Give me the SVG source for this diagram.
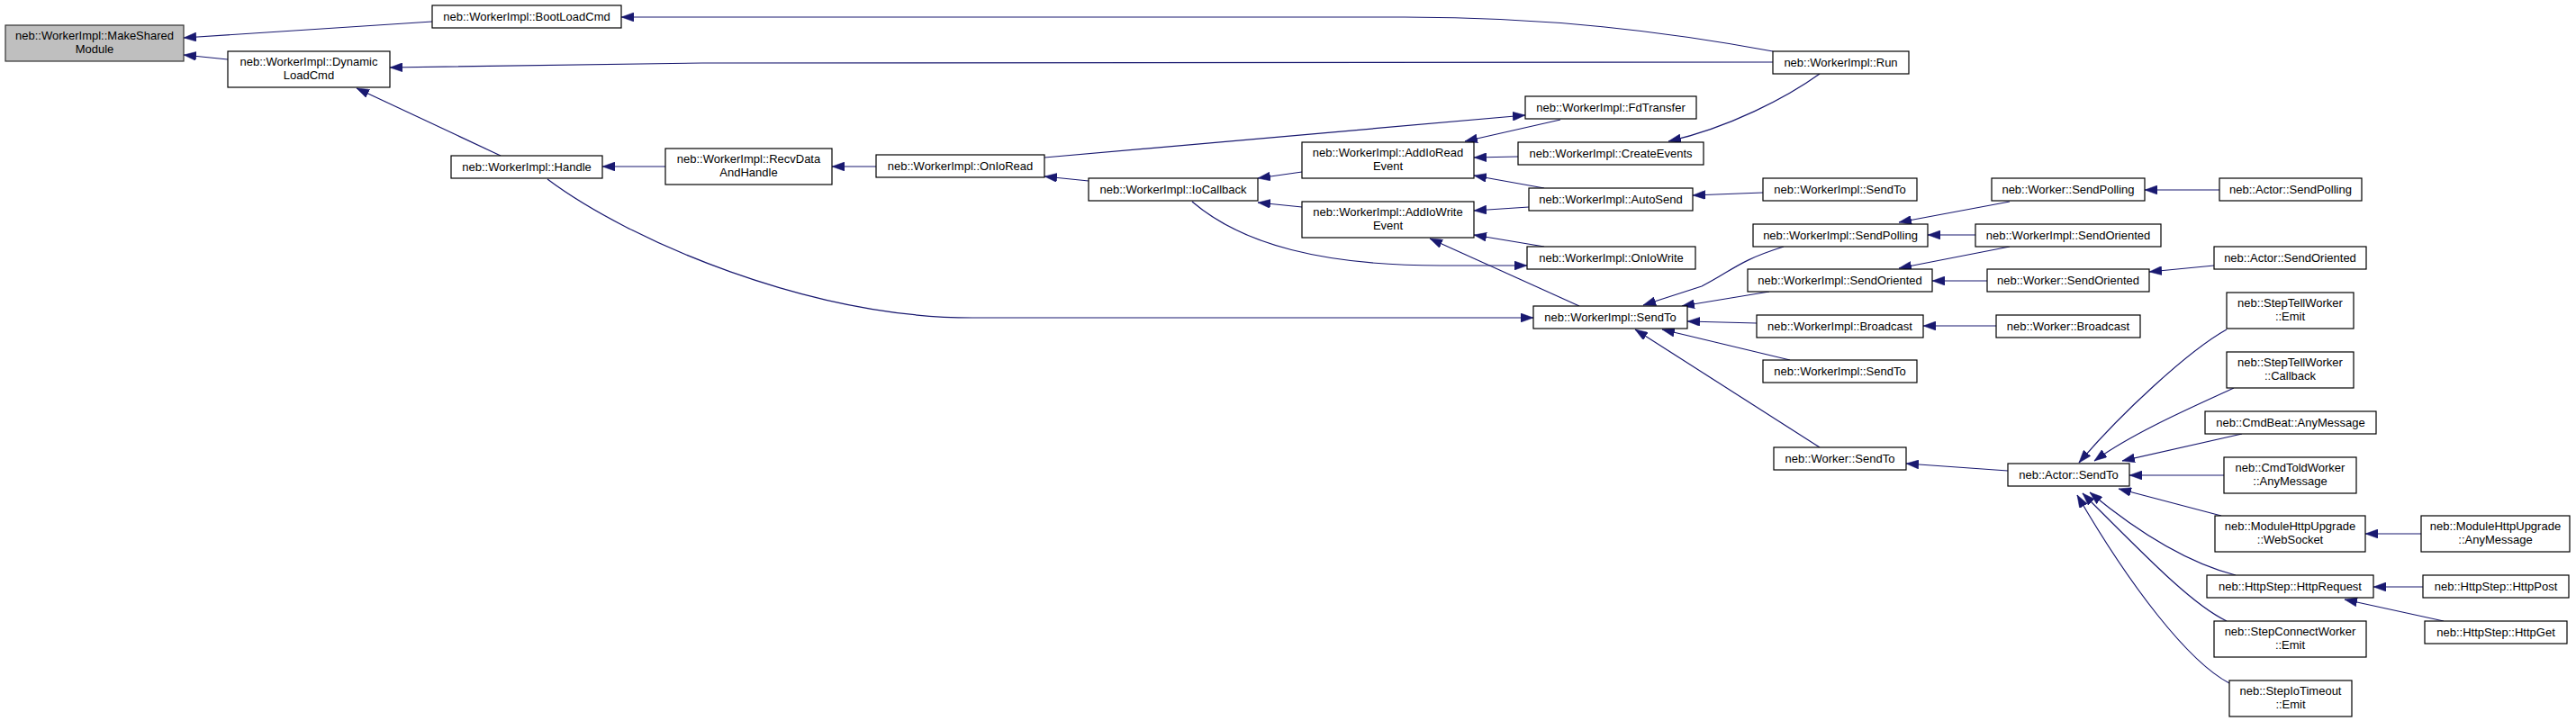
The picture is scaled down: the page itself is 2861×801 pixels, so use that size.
<svg xmlns="http://www.w3.org/2000/svg" width="2861" height="801" viewBox="0 0 2861 801">
<style>
.node rect{fill:#ffffff;stroke:#000000;stroke-width:1.2}
.root rect{fill:#bfbfbf;stroke:#333333}
text{font-family:"Liberation Sans",Arial,Helvetica,sans-serif;font-size:13px;text-anchor:middle;fill:#000000}
.edges path{fill:none;stroke:#191970;stroke-width:1.2;marker-end:url(#arr)}
</style>
<defs>
<marker id="arr" markerUnits="userSpaceOnUse" markerWidth="14" markerHeight="10" viewBox="0 0 14 10" refX="14" refY="5" orient="auto">
<path d="M0,0 L14,5 L0,10 z" fill="#191970" stroke="#191970" stroke-width="0.5"/>
</marker>
</defs>
<rect x="0" y="0" width="2861" height="801" fill="#ffffff"/>
<g class="edges" id="connectors">
<path d="M480,24 L204,42"/>
<path d="M253,66 L204,61"/>
<path d="M1969,57 C1850,35 1720,19 1560,19 L690,19"/>
<path d="M1969,69 L780,70 L433,75"/>
<path d="M556,173 L396,98"/>
<path d="M739,185 L669,185"/>
<path d="M973,185 L924,185"/>
<path d="M1209,201 L1160,196"/>
<path d="M608,199 C700,268 900,353 1080,353 L1703,353"/>
<path d="M1160,175 L1694,128"/>
<path d="M1733,133 L1627,157"/>
<path d="M2021,82 C1985,108 1920,142 1853,157"/>
<path d="M1686,174 L1637,175"/>
<path d="M1715,209 L1637,195"/>
<path d="M1698,230 L1637,234"/>
<path d="M1958,214 L1880,217"/>
<path d="M1715,274 L1637,261"/>
<path d="M1446,191 L1397,198"/>
<path d="M1446,230 L1397,225"/>
<path d="M1324,224 C1380,272 1470,295 1600,295 L1696,295"/>
<path d="M1754,340 L1588,265"/>
<path d="M1981,274 C1930,290 1925,300 1890,318 L1825,339"/>
<path d="M1965,324 L1868,340"/>
<path d="M1951,359 L1874,357"/>
<path d="M1988,400 L1846,366"/>
<path d="M2021,497 L1816,366"/>
<path d="M2232,224 L2109,247"/>
<path d="M2194,261 L2141,261"/>
<path d="M2232,274 L2109,298"/>
<path d="M2207,312 L2146,312"/>
<path d="M2465,211 L2382,211"/>
<path d="M2459,295 L2387,302"/>
<path d="M2217,362 L2136,362"/>
<path d="M2230,523 L2117,515"/>
<path d="M2473,366 C2430,390 2355,460 2309,514"/>
<path d="M2481,431 C2440,450 2370,480 2326,512"/>
<path d="M2490,482 L2357,512"/>
<path d="M2470,528 L2365,528"/>
<path d="M2467,573 L2353,543"/>
<path d="M2483,639 C2440,628 2385,600 2321,547"/>
<path d="M2473,690 C2435,672 2385,620 2313,548"/>
<path d="M2476,759 C2430,735 2365,650 2307,550"/>
<path d="M2689,593 L2627,593"/>
<path d="M2691,652 L2636,652"/>
<path d="M2714,690 L2604,666"/>
</g>
<g id="n_make" class="node root"><rect x="6" y="28" width="198" height="40"/><text x="105" y="44">neb::WorkerImpl::MakeShared</text><text x="105" y="59">Module</text></g>
<g id="n_dyn" class="node"><rect x="253" y="57" width="180" height="40"/><text x="343" y="73">neb::WorkerImpl::Dynamic</text><text x="343" y="88">LoadCmd</text></g>
<g id="n_boot" class="node"><rect x="480" y="6" width="210" height="25"/><text x="585" y="23">neb::WorkerImpl::BootLoadCmd</text></g>
<g id="n_handle" class="node"><rect x="501" y="173" width="168" height="25"/><text x="585" y="190">neb::WorkerImpl::Handle</text></g>
<g id="n_recv" class="node"><rect x="739" y="165" width="185" height="40"/><text x="831.5" y="181">neb::WorkerImpl::RecvData</text><text x="831.5" y="196">AndHandle</text></g>
<g id="n_onioread" class="node"><rect x="973" y="172" width="187" height="25"/><text x="1066.5" y="189">neb::WorkerImpl::OnIoRead</text></g>
<g id="n_iocb" class="node"><rect x="1209" y="198" width="188" height="25"/><text x="1303" y="215">neb::WorkerImpl::IoCallback</text></g>
<g id="n_run" class="node"><rect x="1969" y="57" width="151" height="25"/><text x="2044.5" y="74">neb::WorkerImpl::Run</text></g>
<g id="n_fdt" class="node"><rect x="1694" y="107" width="190" height="25"/><text x="1789" y="124">neb::WorkerImpl::FdTransfer</text></g>
<g id="n_addr" class="node"><rect x="1446" y="158" width="191" height="40"/><text x="1541.5" y="174">neb::WorkerImpl::AddIoRead</text><text x="1541.5" y="189">Event</text></g>
<g id="n_create" class="node"><rect x="1686" y="158" width="206" height="25"/><text x="1789" y="175">neb::WorkerImpl::CreateEvents</text></g>
<g id="n_autosend" class="node"><rect x="1698" y="209" width="182" height="25"/><text x="1789" y="226">neb::WorkerImpl::AutoSend</text></g>
<g id="n_sendto1" class="node"><rect x="1958" y="198" width="171" height="25"/><text x="2043.5" y="215">neb::WorkerImpl::SendTo</text></g>
<g id="n_addw" class="node"><rect x="1446" y="224" width="191" height="40"/><text x="1541.5" y="240">neb::WorkerImpl::AddIoWrite</text><text x="1541.5" y="255">Event</text></g>
<g id="n_oniowrite" class="node"><rect x="1696" y="274" width="187" height="25"/><text x="1789.5" y="291">neb::WorkerImpl::OnIoWrite</text></g>
<g id="n_sendpoll" class="node"><rect x="1947" y="249" width="194" height="25"/><text x="2044" y="266">neb::WorkerImpl::SendPolling</text></g>
<g id="n_sendori1" class="node"><rect x="1941" y="299" width="205" height="25"/><text x="2043.5" y="316">neb::WorkerImpl::SendOriented</text></g>
<g id="n_sendto" class="node"><rect x="1703" y="340" width="171" height="25"/><text x="1788.5" y="357">neb::WorkerImpl::SendTo</text></g>
<g id="n_bcast" class="node"><rect x="1951" y="350" width="185" height="25"/><text x="2043.5" y="367">neb::WorkerImpl::Broadcast</text></g>
<g id="n_sendto3" class="node"><rect x="1958" y="400" width="171" height="25"/><text x="2043.5" y="417">neb::WorkerImpl::SendTo</text></g>
<g id="n_wsendto" class="node"><rect x="1970" y="497" width="147" height="25"/><text x="2043.5" y="514">neb::Worker::SendTo</text></g>
<g id="n_wpoll" class="node"><rect x="2212" y="198" width="170" height="25"/><text x="2297" y="215">neb::Worker::SendPolling</text></g>
<g id="n_apoll" class="node"><rect x="2465" y="198" width="158" height="25"/><text x="2544" y="215">neb::Actor::SendPolling</text></g>
<g id="n_sendori2" class="node"><rect x="2194" y="249" width="206" height="25"/><text x="2297" y="266">neb::WorkerImpl::SendOriented</text></g>
<g id="n_aori" class="node"><rect x="2459" y="274" width="169" height="25"/><text x="2543.5" y="291">neb::Actor::SendOriented</text></g>
<g id="n_wori" class="node"><rect x="2207" y="299" width="180" height="25"/><text x="2297" y="316">neb::Worker::SendOriented</text></g>
<g id="n_wbcast" class="node"><rect x="2217" y="350" width="160" height="25"/><text x="2297" y="367">neb::Worker::Broadcast</text></g>
<g id="n_stwemit" class="node"><rect x="2473" y="325" width="141" height="40"/><text x="2543.5" y="341">neb::StepTellWorker</text><text x="2543.5" y="356">::Emit</text></g>
<g id="n_stwcb" class="node"><rect x="2473" y="391" width="141" height="40"/><text x="2543.5" y="407">neb::StepTellWorker</text><text x="2543.5" y="422">::Callback</text></g>
<g id="n_cmdbeat" class="node"><rect x="2449" y="457" width="190" height="25"/><text x="2544" y="474">neb::CmdBeat::AnyMessage</text></g>
<g id="n_asendto" class="node"><rect x="2230" y="515" width="135" height="25"/><text x="2297.5" y="532">neb::Actor::SendTo</text></g>
<g id="n_ctw" class="node"><rect x="2470" y="508" width="147" height="40"/><text x="2543.5" y="524">neb::CmdToldWorker</text><text x="2543.5" y="539">::AnyMessage</text></g>
<g id="n_wsock" class="node"><rect x="2460" y="573" width="167" height="40"/><text x="2543.5" y="589">neb::ModuleHttpUpgrade</text><text x="2543.5" y="604">::WebSocket</text></g>
<g id="n_mhuany" class="node"><rect x="2689" y="573" width="165" height="40"/><text x="2771.5" y="589">neb::ModuleHttpUpgrade</text><text x="2771.5" y="604">::AnyMessage</text></g>
<g id="n_httpreq" class="node"><rect x="2451" y="639" width="185" height="25"/><text x="2543.5" y="656">neb::HttpStep::HttpRequest</text></g>
<g id="n_httppost" class="node"><rect x="2691" y="639" width="162" height="25"/><text x="2772" y="656">neb::HttpStep::HttpPost</text></g>
<g id="n_httpget" class="node"><rect x="2693" y="690" width="158" height="25"/><text x="2772" y="707">neb::HttpStep::HttpGet</text></g>
<g id="n_scw" class="node"><rect x="2459" y="690" width="169" height="40"/><text x="2543.5" y="706">neb::StepConnectWorker</text><text x="2543.5" y="721">::Emit</text></g>
<g id="n_sio" class="node"><rect x="2476" y="756" width="136" height="40"/><text x="2544" y="772">neb::StepIoTimeout</text><text x="2544" y="787">::Emit</text></g>
</svg>
